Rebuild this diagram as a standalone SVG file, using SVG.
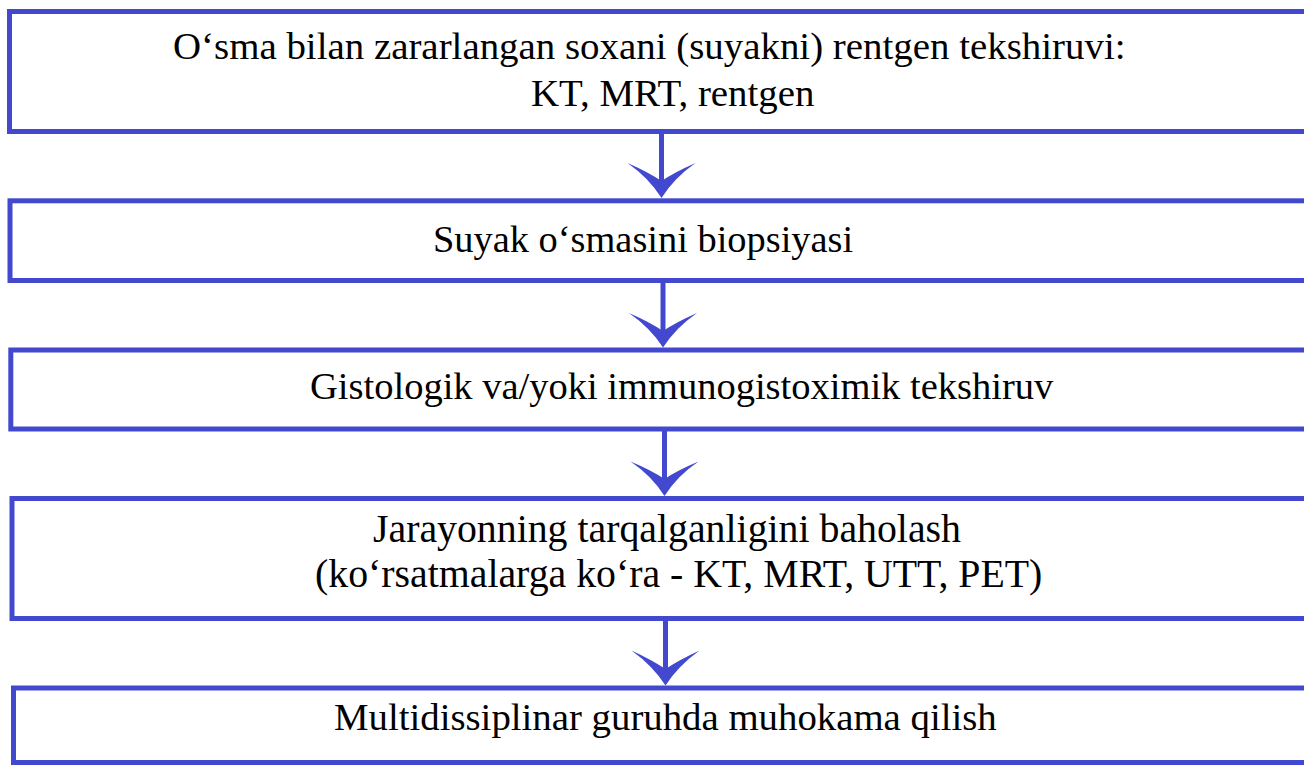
<svg xmlns="http://www.w3.org/2000/svg" width="1304" height="771" viewBox="0 0 1304 771">
  <style>
    .box { fill: #ffffff; stroke: #4349CF; stroke-width: 5; }
    .lbl { font-family: "Liberation Serif", "Times New Roman", serif; font-size: 38.7px; fill: #000000; }
    .big { font-size: 39.8px; }
    .stem { stroke: #4349CF; stroke-width: 5; fill: none; }
    .head { fill: #4349CF; stroke: none; }
  </style>
  <rect width="1304" height="771" fill="#ffffff"/>
  <g id="connectors">
    <g id="arrow1">
      <line class="stem" x1="661.5" y1="134" x2="661.5" y2="190"/>
      <path class="head" d="M661.5,198 Q649,178 627.5,163 Q648,172 661.5,181 Q675,172 695.5,163 Q674,178 661.5,198 Z"/>
    </g>
    <g id="arrow2">
      <line class="stem" x1="663" y1="283" x2="663" y2="340"/>
      <path class="head" d="M663,347.5 Q650.5,328 629,313 Q649.5,322 663,331 Q676.5,322 697,313 Q675.5,328 663,347.5 Z"/>
    </g>
    <g id="arrow3">
      <line class="stem" x1="664.5" y1="431" x2="664.5" y2="488"/>
      <path class="head" d="M664.5,496 Q652,476 630.5,461.5 Q651,470 664.5,479 Q678,470 698.5,461.5 Q677,476 664.5,496 Z"/>
    </g>
    <g id="arrow4">
      <line class="stem" x1="665.5" y1="621" x2="665.5" y2="678"/>
      <path class="head" d="M665.5,685.5 Q653,666 631.5,650.5 Q652,660 665.5,669 Q679,660 699.5,650.5 Q678,666 665.5,685.5 Z"/>
    </g>
  </g>
  <g id="node1">
    <rect class="box" x="9.5" y="11.5" width="1302" height="120"/>
    <text class="lbl" x="173" y="59" style="font-size:38.9px">O‘sma bilan zararlangan soxani (suyakni) rentgen tekshiruvi:</text>
    <text class="lbl" x="531" y="106" style="font-size:38.9px">KT, MRT, rentgen</text>
  </g>
  <g id="node2">
    <rect class="box" x="10" y="200.8" width="1302" height="79.7"/>
    <text class="lbl" x="433" y="252" style="font-size:38.4px">Suyak o‘smasini biopsiyasi</text>
  </g>
  <g id="node3">
    <rect class="box" x="10.8" y="350" width="1302" height="79"/>
    <text class="lbl" x="310" y="399" style="font-size:38.5px">Gistologik va/yoki immunogistoximik tekshiruv</text>
  </g>
  <g id="node4">
    <rect class="box" x="12" y="498.5" width="1302" height="120"/>
    <text class="lbl big" x="373" y="542">Jarayonning tarqalganligini baholash</text>
    <text class="lbl big" x="315" y="587">(ko‘rsatmalarga ko‘ra - KT, MRT, UTT, PET)</text>
  </g>
  <g id="node5">
    <rect class="box" x="13.5" y="688" width="1302" height="74.5"/>
    <text class="lbl" x="334" y="730" style="font-size:38.8px">Multidissiplinar guruhda muhokama qilish</text>
  </g>
</svg>
